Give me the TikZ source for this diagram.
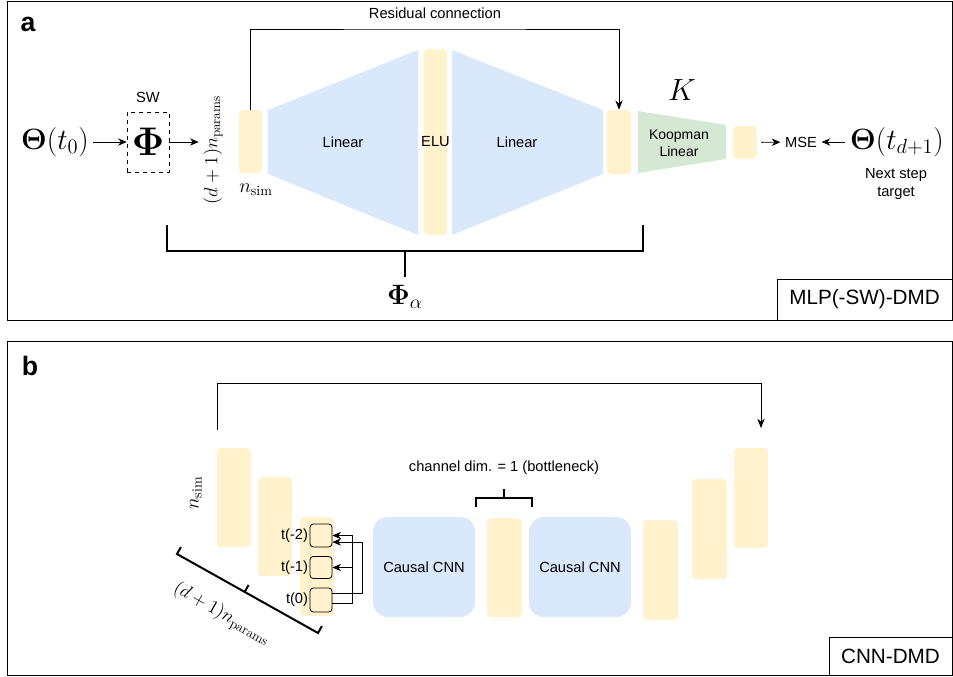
\RequirePackage{fix-cm}
\documentclass[tikz,border=0pt]{standalone}
\usepackage{amsmath,amssymb}
\usepackage{fontspec}
\setsansfont{Liberation Sans}
\usepackage{tikz}
\usetikzlibrary{arrows.meta,positioning,calc}
\definecolor{barY}{HTML}{FFF2CC}
\definecolor{linB}{HTML}{DAE8FC}
\definecolor{koopG}{HTML}{D5E8D4}

\begin{document}
\begin{tikzpicture}[
    x=0.75pt, y=-0.75pt,
    font=\sffamily\fontsize{11}{14}\selectfont,
    bar/.style 2 args={fill=barY, rounded corners=3pt, inner sep=0pt, minimum width=#1*0.75pt, minimum height=#2*0.75pt},
    conv/.style={fill=linB, rounded corners=11pt, inner sep=0pt, minimum width=76.5pt, minimum height=75pt},
    tbox/.style={draw, fill=barY, rounded corners=2.5pt, inner sep=0pt, minimum width=16.5pt, line width=0.6pt},
    arrow/.style={-{Stealth[length=6.5pt,width=5.5pt]}, line width=0.6pt},
    res/.style={-{Stealth[length=7pt,width=5.5pt]}, line width=0.6pt},
    brace/.style={line width=1.5pt},
    frame/.style={line width=0.75pt},
    big/.style={font=\fontsize{22}{26}\selectfont},
    dimlbl/.style={font=\fontsize{14}{16}\selectfont},
    tag/.style={draw, line width=0.75pt, font=\sffamily\fontsize{15.5}{18}\selectfont},
    panel/.style={font=\sffamily\bfseries\fontsize{20}{24}\selectfont}
]
    \useasboundingbox (0,0) rectangle (953,676);

    % panel a
    \draw[frame] (7,1) rectangle (952,320);
    \node[panel] (labA) at (28,24) {a};
    \node[tag, minimum width=131.25pt, minimum height=30.75pt] (tagA) at (864.5,299.5) {MLP(-SW)-DMD};

    \node[big] (th0) at (55,142) {$\boldsymbol{\Theta}(t_0)$};
    \node[draw, dashed, minimum width=31.5pt, minimum height=45pt, inner sep=0pt, font=\fontsize{30}{34}\selectfont] (sw) at (148,142) {$\boldsymbol{\Phi}$};
    \node[above=3pt of sw] (swl) {SW};
    \node[dimlbl, rotate=90] (dimA) at (213,150) {$(d+1)n_{\mathrm{params}}$};
    \node[dimlbl, font=\fontsize{15}{17}\selectfont] (nsA) at (256,190) {$n_{\mathrm{sim}}$};

    \node[bar={23}{63}] (inA) at (250.5,141.5) {};
    \fill[linB] (268,110) -- (418,50) -- (418,235) -- (268,174) -- cycle;
    \node (lin1) at (343,142) {Linear};
    \node[bar={23}{186}] (elu) at (435.5,142) {};
    \node (eluL) at (elu) {ELU};
    \fill[linB] (452,50) -- (603,110) -- (603,174) -- (452,235) -- cycle;
    \node (lin2) at (517,142) {Linear};
    \node[bar={24}{64}] (outA) at (619,142) {};
    \fill[koopG] (638,111) -- (726,125) -- (726,159) -- (638,173) -- cycle;
    \node[align=center, font=\sffamily\fontsize{10.5}{13}\selectfont] (koop) at (679,143) {Koopman\\Linear};
    \node[font=\fontsize{23}{26}\selectfont] (K) at (682,90) {$K$};
    \node[bar={24}{33}] (kA) at (745,142.5) {};
    \node (mse) at (801,142) {MSE};
    \node[big] (th1) at (897,142) {$\boldsymbol{\Theta}(t_{d+1})$};
    \node[align=center] (nxt) at (896,184) {Next step\\target};

    % residual connection
    \coordinate (resA) at (435,29);
    \node (resL) at (435,13) {Residual connection};
    \draw[res] (inA.north) |- (resA) -| (outA.north);

    \draw[arrow] (th0) -- (sw);
    \draw[arrow] (sw) -- (sw -| dimA.north);
    \draw[arrow, shorten <=3pt] (kA) -- (mse);
    \draw[arrow] (th1) -- (mse);

    % bracket Phi_alpha
    \coordinate (brL) at (167,225);
    \coordinate (brR) at (643,225);
    \coordinate (brM) at (405,251);
    \coordinate (brT) at (405,277);
    \node[font=\fontsize{21}{24}\selectfont] (phiA) at (405,297) {$\boldsymbol{\Phi}_\alpha$};
    \draw[brace] (brL) |- (brM) -| (brR);
    \draw[brace] (brM) -- (brT);

    % panel b
    \draw[frame] (7,341) rectangle (952,675);
    \node[panel] (labB) at (30,366) {b};
    \node[tag, minimum width=92.25pt, minimum height=28.5pt] (tagB) at (890.5,656) {CNN-DMD};

    \node[bar={34}{99}] (b1) at (234,497.5) {};
    \node[bar={34}{99}] (b2) at (275,526.5) {};
    \node[bar={34}{99}] (b3) at (317,566.5) {};
    \node[conv] (cnn1) at (424,567) {Causal CNN};
    \node[bar={35}{99}] (mid) at (504.5,567.5) {};
    \node[conv] (cnn2) at (580,567) {Causal CNN};
    \node[bar={35}{100}] (r1) at (660.5,570) {};
    \node[bar={35}{100}] (r2) at (709.5,529) {};
    \node[bar={34}{100}] (r3) at (751,498) {};

    \node[tbox, minimum height=17.25pt] (tm2) at (321,535.5) {};
    \node[tbox, minimum height=16.5pt] (tm1) at (321,567.5) {};
    \node[tbox, minimum height=18pt] (t0) at (321,600) {};
    \node[left=0pt of tm2, inner sep=1pt] (tm2L) {t(-2)};
    \node[left=0pt of tm1, inner sep=1pt] (tm1L) {t(-1)};
    \node[left=0pt of t0, inner sep=1pt] (t0L) {t(0)};

    \draw[arrow] ([yshift=5.25pt]t0.east) -| ([xshift=22.5pt,yshift=-4.9pt]tm2.east) -- ([yshift=-4.9pt]tm2.east);
    \draw[arrow] ([yshift=-2.25pt]t0.east) -| ([xshift=15pt]tm2.east) -- (tm2.east);
    \draw[arrow] ([xshift=15pt]tm1.east) -- (tm1.east);

    % residual connection b
    \coordinate (rbS) at (217,430);
    \coordinate (rbM) at (490,383);
    \coordinate (rbE) at (761,428);
    \draw[res] (rbS) |- (rbM) -| (rbE);

    % bottleneck bracket
    \coordinate (bnL) at (476,507);
    \coordinate (bnR) at (532,507);
    \coordinate (bnM) at (504,498);
    \coordinate (bnT) at (504,489);
    \node (bnLbl) at (504,468) {channel dim. = 1 (bottleneck)};
    \draw[brace] (bnL) |- (bnM) -| (bnR);
    \draw[brace] (bnM) -- (bnT);

    \node[rotate=90, font=\fontsize{15}{17}\selectfont] (nsB) at (196,493) {$n_{\mathrm{sim}}$};

    % diagonal bracket
    \coordinate (dbA) at (177,554);
    \coordinate (dbB) at (318,633);
    \coordinate (dbM) at ($(dbA)!0.48!(dbB)$);
    \draw[brace] ($(dbA)!6pt!90:(dbB)$) -- (dbA) -- (dbB) -- ($(dbB)!6pt!-90:(dbA)$);
    \draw[brace] (dbM) -- ($(dbM)!6pt!90:(dbB)$);
    \node[dimlbl, rotate=-29.3] (dimB) at (222,614) {$(d+1)n_{\mathrm{params}}$};
\end{tikzpicture}
\end{document}
